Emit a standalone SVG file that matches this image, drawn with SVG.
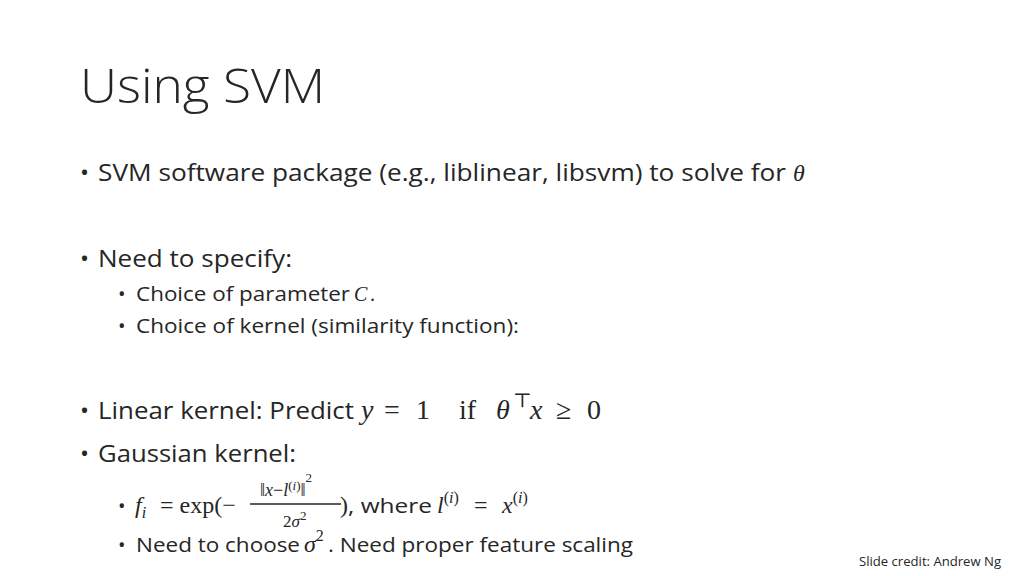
<svg xmlns="http://www.w3.org/2000/svg" width="1024" height="576" viewBox="0 0 1024 576">
<style>
.s{font-family:"Open Sans","Liberation Sans",sans-serif;fill:#262626}
.m{font-family:"Liberation Serif","DejaVu Serif",serif;fill:#262626}
.i{font-style:italic}
</style>
<rect width="1024" height="576" fill="#fff"/>
<text class="s" x="80" y="103" font-size="48" font-weight="300" textLength="245" lengthAdjust="spacingAndGlyphs">Using SVM</text>
<g font-size="24">
<text class="s" x="80" y="181">•</text>
<text class="s" x="98" y="181" textLength="688" lengthAdjust="spacingAndGlyphs">SVM software package (e.g., liblinear, libsvm) to solve for</text>
<text class="m i" x="793" y="181">θ</text>
<text class="s" x="80" y="267">•</text>
<text class="s" x="98" y="267" textLength="194" lengthAdjust="spacingAndGlyphs">Need to specify:</text>
</g>
<g font-size="20">
<text class="s" x="118" y="301">•</text>
<text class="s" x="136" y="301" textLength="214" lengthAdjust="spacingAndGlyphs">Choice of parameter</text>
<text class="m i" x="354" y="301">C</text><text class="m" x="370" y="301">.</text>
<text class="s" x="118" y="333">•</text>
<text class="s" x="136" y="333" textLength="383" lengthAdjust="spacingAndGlyphs">Choice of kernel (similarity function):</text>
</g>
<g font-size="24">
<text class="s" x="80" y="419">•</text>
<text class="s" x="98" y="419" textLength="256" lengthAdjust="spacingAndGlyphs">Linear kernel: Predict</text>
<text class="m" x="361" y="419" font-size="28"><tspan class="i">y</tspan><tspan x="384">=</tspan><tspan x="416">1</tspan><tspan x="459">if</tspan><tspan x="496" class="i">θ</tspan><tspan x="513" y="407" font-size="20">⊤</tspan><tspan x="530" y="419" class="i">x</tspan><tspan x="556">≥</tspan><tspan x="587">0</tspan></text>
<text class="s" x="80" y="462">•</text>
<text class="s" x="98" y="462" textLength="198" lengthAdjust="spacingAndGlyphs">Gaussian kernel:</text>
</g>
<g font-size="20">
<text class="s" x="118" y="513">•</text>
<text class="m" x="135" y="513" font-size="24"><tspan class="i">f</tspan><tspan class="i" font-size="16" y="518">i</tspan><tspan x="160" y="513">= exp(−</tspan></text>
<text class="m" x="260" y="496" font-size="18">‖<tspan class="i">x</tspan>−<tspan class="i">l</tspan><tspan font-size="13" y="490">(</tspan><tspan class="i" font-size="13" y="490">i</tspan><tspan font-size="13" y="490">)</tspan><tspan y="496">‖</tspan><tspan font-size="13" y="482">2</tspan></text>
<line x1="250" y1="504" x2="341" y2="504" stroke="#262626" stroke-width="1.3"/>
<text class="m" x="283" y="527" font-size="17">2<tspan class="i">σ</tspan><tspan font-size="13" y="520">2</tspan></text>
<text class="m" x="340" y="513" font-size="24">)</text>
<text class="s" x="348" y="513" textLength="84" lengthAdjust="spacingAndGlyphs">, where</text>
<text class="m" x="437" y="513" font-size="24"><tspan class="i">l</tspan><tspan font-size="16" y="503">(</tspan><tspan class="i" font-size="16" y="503">i</tspan><tspan font-size="16" y="503">)</tspan><tspan x="474" y="513">=</tspan><tspan x="502" class="i">x</tspan><tspan font-size="16" y="503">(</tspan><tspan class="i" font-size="16" y="503">i</tspan><tspan font-size="16" y="503">)</tspan></text>
<text class="s" x="118" y="552">•</text>
<text class="s" x="136" y="552" textLength="164" lengthAdjust="spacingAndGlyphs">Need to choose</text>
<text class="m" x="304" y="552" font-size="24"><tspan class="i">σ</tspan><tspan font-size="16" y="541">2</tspan></text>
<text class="s" x="328" y="552" textLength="305" lengthAdjust="spacingAndGlyphs">. Need proper feature scaling</text>
</g>
<text class="s" x="859" y="566" font-size="13" textLength="142" lengthAdjust="spacingAndGlyphs">Slide credit: Andrew Ng</text>
</svg>
